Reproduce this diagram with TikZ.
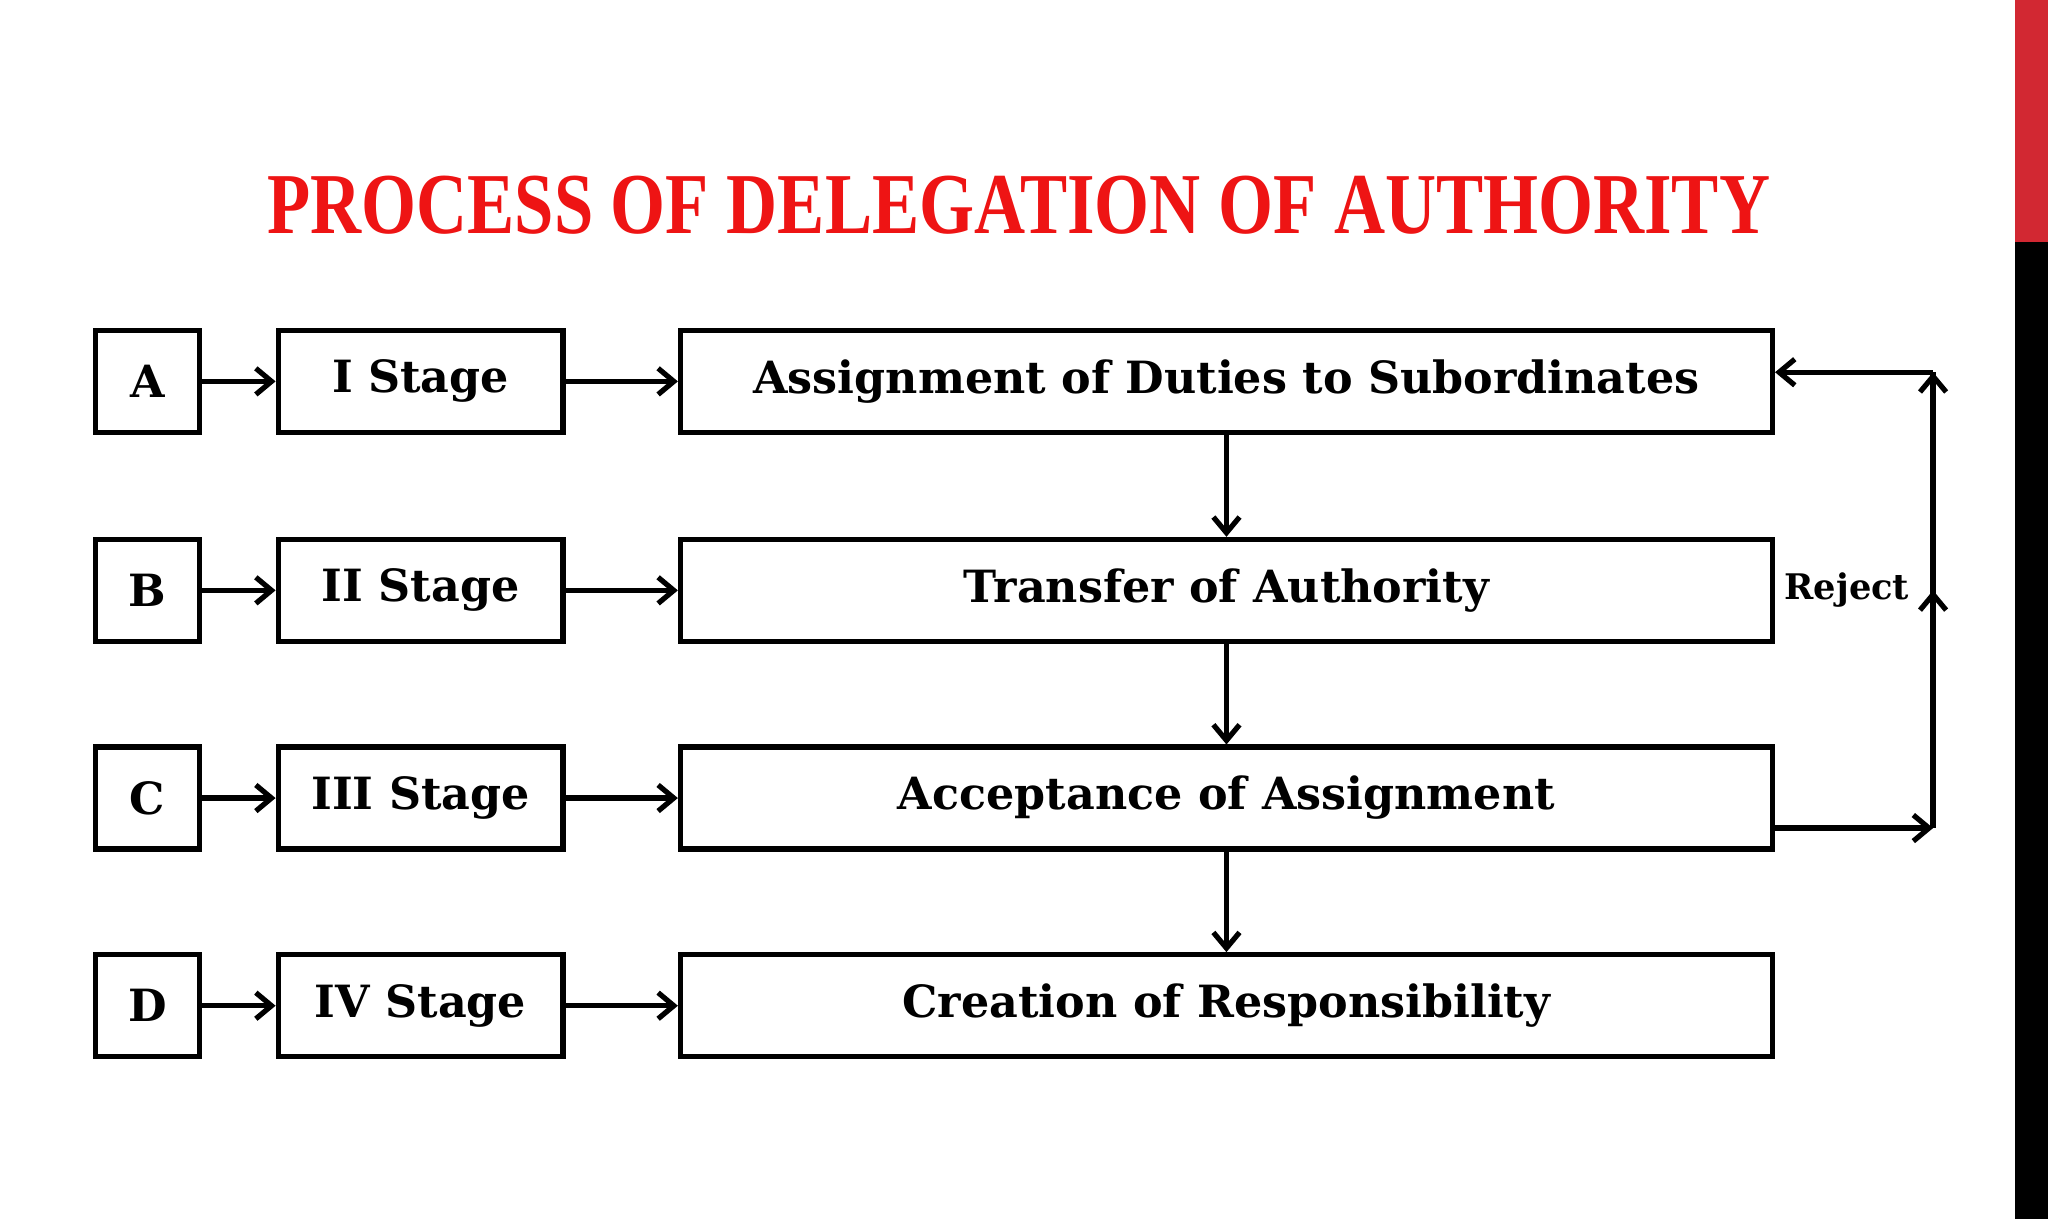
\documentclass[tikz,border=0pt]{standalone}
\usepackage{fontspec}
\setmainfont{Liberation Serif}
\newfontfamily\boxfont{DejaVu Serif}
\usetikzlibrary{arrows.meta}
\definecolor{tred}{RGB}{238,20,20}
\definecolor{bred}{RGB}{210,40,50}
\begin{document}
\begin{tikzpicture}[x=1pt,y=-1pt,
  box/.style={draw,line width=4pt,minimum height=78pt,inner sep=0pt,font=\boxfont\fontsize{34}{38}\selectfont\bfseries},
  arr/.style={line width=4pt,-{Straight Barb[length=12pt,width=20pt,line width=4pt]}}]
\useasboundingbox (0,0) rectangle (1568,933);
\fill[white] (0,0) rectangle (1568,933);
\fill[bred] (1543,0) rectangle (1568,185);
\fill[black] (1543,185) rectangle (1568,933);
\node[text=tred] (title) at (780,157) {\resizebox{1150pt}{44pt}{\bfseries PROCESS OF DELEGATION OF AUTHORITY}};
\foreach \n/\l/\s/\t/\y in {a/A/I Stage/Assignment of Duties to Subordinates/292,
  b/B/II Stage/Transfer of Authority/452,
  c/C/III Stage/Acceptance of Assignment/611,
  d/D/IV Stage/Creation of Responsibility/770}{
  \node[box,minimum width=80pt] (\n1) at (113,\y) {\l};
  \node[box,minimum width=218pt] (\n2) at (322,\y) {\s};
  \node[box,minimum width=836pt] (\n3) at (939,\y) {\t};
  \draw[arr] (\n1) -- (\n2);
  \draw[arr] (\n2) -- (\n3);
}
\draw[arr] (a3) -- (b3);
\draw[arr] (b3) -- (c3);
\draw[arr] (c3) -- (d3);
\coordinate (r1) at (1480,634);
\coordinate (r2) at (1480,285);
\coordinate (rm) at (1480,452);
\draw[arr] (c3.east |- r1) -- (r1);
\draw[line width=4pt] (r1) -- (r2);
\draw[arr] (r1) -- (rm);
\draw[arr] (rm) -- (r2);
\draw[arr] (r2) -- (a3.east |- r2);
\node[font=\boxfont\fontsize{27}{30}\selectfont\bfseries,inner sep=0pt] (rej) at (1414,452) {Reject};
\end{tikzpicture}
\end{document}
